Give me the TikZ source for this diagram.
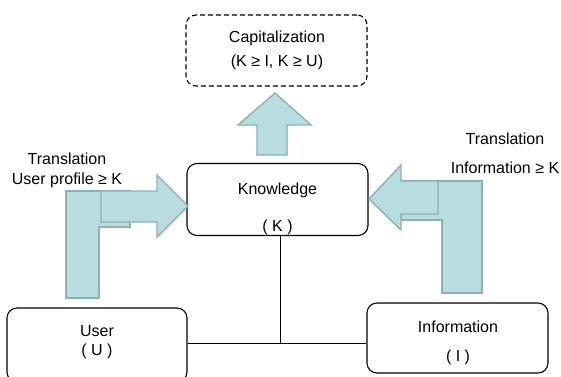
\documentclass[tikz,border=0pt]{standalone}
\usepackage{fontspec}
\setmainfont{Liberation Sans}
\definecolor{arrfill}{HTML}{B8DDE0}
\definecolor{arrline}{HTML}{8BB1B3}
\begin{document}
\begin{tikzpicture}[x=1pt,y=-1pt,
  box/.style={draw=black,line width=1.1pt,rounded corners=10pt,inner sep=0pt},
  txt/.style={anchor=base,inner sep=0pt,font=\fontsize{16}{19}\selectfont},
  fatarrow/.style={fill=arrfill,draw=arrline,line width=1.4pt,line join=miter}]
\fill[white] (0,0) rectangle (561,376);
\useasboundingbox (0,0) rectangle (561,376);
\begin{scope}
\clip (0,0) rectangle (561,376);
% boxes
\node[box,dash pattern=on 5pt off 3pt,minimum width=181pt,minimum height=71pt] (C) at (276.5,50.5) {};
\node[box,minimum width=181pt,minimum height=72pt] (K) at (277.5,199.5) {};
\node[box,minimum width=180pt,minimum height=74pt] (U) at (97,345) {};
\node[box,minimum width=181pt,minimum height=70pt] (I) at (457.5,338) {};
\end{scope}
% texts
\node[txt] (C1) at (277,42.3) {Capitalization};
\node[txt] (C2) at (277,66.7) {(K ≥ I, K ≥ U)};
\node[txt] (K1) at (277.5,194.7) {Knowledge};
\node[txt] (K2) at (277.5,231) {( K )};
\node[txt] (U1) at (97,336.7) {User};
\node[txt] (U2) at (97,355) {( U )};
\node[txt] (I1) at (458,332.7) {Information};
\node[txt] (I2) at (458,361.7) {( I )};
\node[txt] (TL1) at (67,164.3) {Translation};
\node[txt] (TL2) at (67,184) {User profile ≥ K};
\node[txt] (TR1) at (505,144) {Translation};
\node[txt] (TR2) at (505,173.3) {Information ≥ K};
% connectors
\coordinate (J) at (280.5,343.7);
\draw[line width=1.1pt] (K.south -| J) -- (J);
\draw[line width=1.1pt] (U.east |- J) -- (I.west |- J);
% up arrow
\draw[fatarrow] (257,155) -- (257,125) -- (238,125) -- (275,93) -- (311,125) -- (287,125) -- (287,155) -- cycle;
% left bent arrow
\draw[fatarrow] (66,298) -- (66,191) -- (130,191) -- (130,227) -- (99,227) -- (99,298) -- cycle;
\draw[fatarrow] (101,191) -- (157,191) -- (157,175) -- (188,206) -- (157,237) -- (157,222) -- (101,222) -- cycle;
% right bent arrow
\draw[fatarrow] (482,181) -- (482,293) -- (442,293) -- (442,220) -- (401,220) -- (401,181) -- cycle;
\draw[fatarrow] (438,181) -- (401,181) -- (401,165) -- (369,199) -- (401,230) -- (401,214) -- (438,214) -- cycle;
\end{tikzpicture}
\end{document}
